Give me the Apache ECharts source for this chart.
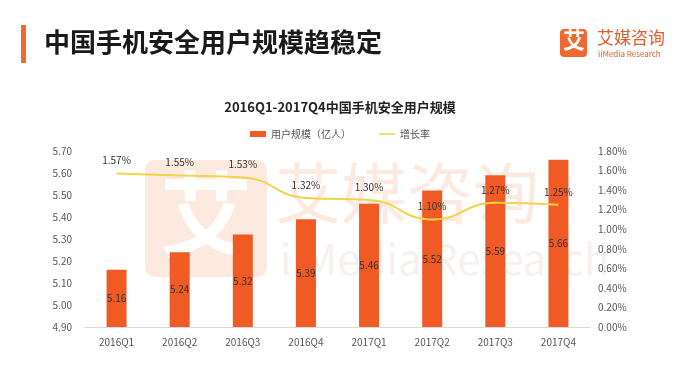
<!DOCTYPE html>
<html><head><meta charset="utf-8">
<script src="https://cdn.jsdelivr.net/npm/echarts@6/dist/echarts.min.js"></script>
<style>html,body{margin:0;padding:0;background:#fff}#c{width:680px;height:377px}</style>
</head><body><div id="c"></div>
<script>
var categories = ['2016Q1','2016Q2','2016Q3','2016Q4','2017Q1','2017Q2','2017Q3','2017Q4'];
var users = [5.16, 5.24, 5.32, 5.39, 5.46, 5.52, 5.59, 5.66];
var growth = [1.57, 1.55, 1.53, 1.32, 1.30, 1.10, 1.27, 1.25];
var seriesNames = ['用户规模（亿人）', '增长率'];
var FF = '"Noto Sans CJK SC", "Noto Sans", sans-serif';
var chart = echarts.init(document.getElementById('c'));
chart.setOption({
  animation: false,
  backgroundColor: '#fff',
  textStyle: {fontFamily: FF},
  graphic: [
    {type:'rect', left:21, top:25, shape:{width:5, height:38}, style:{fill:'#EE6A30'}},
    {type:'text', left:44, top:29, style:{text:'中国手机安全用户规模趋稳定', font:'bold 26px ' + FF, fill:'#1a1a1a'}},
    {type:'rect', left:560, top:29, shape:{width:27, height:28, r:4}, style:{fill:'#EE6A30'}},
    {type:'text', left:563, top:29, style:{text:'艾', font:'bold 22px ' + FF, fill:'#fff'}},
    {type:'text', left:597, top:29, style:{text:'艾媒咨询', font:'17px ' + FF, fill:'#E0602D'}},
    {type:'text', left:598, top:50, style:{text:'iiMedia Research', font:'8px ' + FF, fill:'#E0602D'}},
    // watermark
    {type:'rect', left:145, top:160, z:-1, shape:{width:122, height:117, r:10}, style:{fill:'#FCE9DF'}},
    {type:'text', left:160, top:168, z:-1, style:{text:'艾', font:'bold 92px ' + FF, fill:'#fff'}},
    {type:'text', left:275, top:160, z:-1, style:{text:'艾媒咨询', font:'66px ' + FF, fill:'#FCEAE0'}},
    {type:'text', left:280, top:238, z:-1, style:{text:'iiMedia Research', font:'42px ' + FF, fill:'#F6F1EF'}}
  ],
  title: {
    text: '2016Q1-2017Q4中国手机安全用户规模',
    left: 'center', top: 96,
    textStyle: {fontSize: 13, fontWeight: 'bold', color: '#222', fontFamily: FF}
  },
  legend: {
    top: 124, left: 'center',
    itemWidth: 16, itemHeight: 6, itemGap: 28,
    textStyle: {fontSize: 10, color: '#555', fontFamily: FF},
    data: [{name: seriesNames[0], icon: 'rect'}, {name: seriesNames[1], icon: 'path://M0,0H20V2H0Z'}]
  },
  grid: {left: 85, right: 90, top: 151, bottom: 50, containLabel: false},
  xAxis: {
    type: 'category', data: categories,
    axisLine: {lineStyle: {color: '#d9d9d9'}},
    axisTick: {show: false},
    axisLabel: {color: '#555', fontSize: 10, margin: 10}
  },
  yAxis: [
    {type:'value', min:4.9, max:5.7, interval:0.1,
     splitLine:{show:false}, axisLine:{show:false}, axisTick:{show:false},
     axisLabel:{color:'#555', fontSize:10, margin:13, formatter:function(v){return v.toFixed(2);}}},
    {type:'value', min:0, max:1.8, interval:0.2,
     splitLine:{show:false}, axisLine:{show:false}, axisTick:{show:false},
     axisLabel:{color:'#555', fontSize:10, margin:8, formatter:function(v){return v.toFixed(2)+'%';}}}
  ],
  series: [
    {name: seriesNames[0], type:'bar', data: users, barWidth: 20, yAxisIndex: 0,
     itemStyle:{color:'#F05A24'},
     label:{show:true, position:'inside', color:'#333', fontSize:10, formatter:function(p){return p.value.toFixed(2);}}},
    {name: seriesNames[1], type:'line', data: growth, yAxisIndex: 1, smooth: true,
     symbol:'circle', symbolSize: 0, showSymbol: true,
     lineStyle:{color:'#F3D34A', width:2}, itemStyle:{color:'#F3D34A'},
     label:{show:true, position:'top', distance:8, color:'#333', fontSize:10, formatter:function(p){return p.value.toFixed(2)+'%';}}}
  ]
});
</script></body></html>
